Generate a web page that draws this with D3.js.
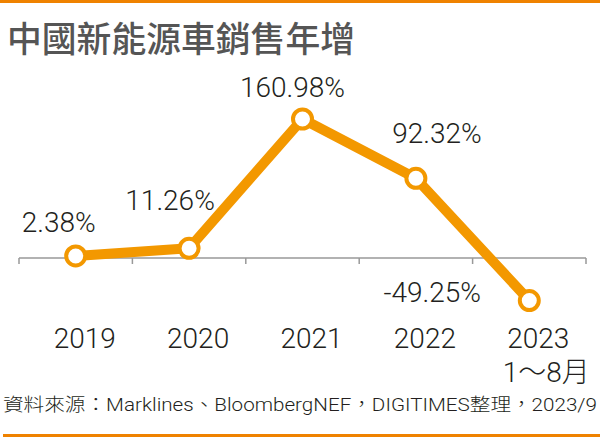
<!DOCTYPE html>
<html lang="zh-Hant">
<head>
<meta charset="utf-8">
<script src="https://d3js.org/d3.v7.min.js"></script>
<style>
  body { margin: 0; background: #fff; }
  svg { display: block; }
</style>
</head>
<body>
<script>
  // data
  const years = ["2019", "2020", "2021", "2022", "2023"];
  const yearSub = ["", "", "", "", "1～8月"];
  const growth = [2.38, 11.26, 160.98, 92.32, -49.25];
  // label placement relative to each point (dx, dy of baseline)
  const labelShift = [[-17, -24], [-19, -38], [-10, -22], [21, -35], [-97, 1]];

  const W = 600, H = 438;
  const orange = "#f39800";
  const numFont = "Roboto, 'Liberation Sans', Arial, 'Noto Sans CJK TC', sans-serif";
  const cjkFont = "'Noto Sans CJK TC', 'Noto Sans CJK SC', sans-serif";
  const fmt = v => d3.format(".2f")(v).replace("−", "-") + "%";

  const svg = d3.select("body").append("svg")
    .attr("width", W).attr("height", H);

  svg.append("rect").attr("width", W).attr("height", H).attr("fill", "#fff");

  // orange rules top and bottom
  svg.append("rect").attr("x", 0).attr("y", 0).attr("width", W).attr("height", 3).attr("fill", "#ef8200");
  svg.append("rect").attr("x", 3).attr("y", 434).attr("width", W - 3).attr("height", 3).attr("fill", "#ef8200");

  // title
  svg.append("text")
    .attr("x", 7).attr("y", 52)
    .attr("font-family", cjkFont)
    .attr("font-weight", 500)
    .attr("font-size", 35)
    .attr("fill", "#555")
    .attr("textLength", 348)
    .attr("lengthAdjust", "spacingAndGlyphs")
    .text("中國新能源車銷售年增");

  // scales
  const x = d3.scaleBand().domain(years).range([19, 586]);
  const y = d3.scaleLinear().domain([0, 160.98]).range([258, 119]);

  // baseline axis with ticks at band edges
  const axis = svg.append("g").attr("transform", "translate(0," + y(0) + ")");
  axis.append("line")
    .attr("x1", 19).attr("x2", 586)
    .attr("stroke", "#999").attr("stroke-width", 1.5);
  const edges = years.map(d => x(d)).concat([x.range()[1]]);
  axis.selectAll(".tk").data(edges).enter().append("line")
    .attr("x1", d => d).attr("x2", d => d)
    .attr("y1", 0).attr("y2", 6)
    .attr("stroke", "#999").attr("stroke-width", 1.5);

  // year labels
  const cx = d => x(d) + x.bandwidth() / 2;
  svg.selectAll(".yr").data(years).enter().append("text")
    .attr("x", d => cx(d) + 9).attr("y", 348)
    .attr("text-anchor", "middle")
    .attr("font-family", numFont).attr("font-weight", 300).attr("font-size", 28)
    .attr("fill", "#231f20")
    .text(d => d);
  svg.selectAll(".sub").data(years).enter().append("text")
    .attr("x", d => cx(d) + 17).attr("y", 382)
    .attr("text-anchor", "middle")
    .attr("font-family", numFont).attr("font-weight", 300).attr("font-size", 28)
    .attr("fill", "#231f20")
    .text((d, i) => yearSub[i]);

  // line
  const pts = years.map((d, i) => [cx(d), y(growth[i])]);
  svg.append("path")
    .attr("d", d3.line()(pts))
    .attr("fill", "none")
    .attr("stroke", orange)
    .attr("stroke-width", 10)
    .attr("stroke-linejoin", "round");

  svg.selectAll(".pt").data(pts).enter().append("circle")
    .attr("cx", d => d[0]).attr("cy", d => d[1])
    .attr("r", 9.5)
    .attr("fill", "#fff")
    .attr("stroke", orange)
    .attr("stroke-width", 4);

  // value labels
  svg.selectAll(".val").data(growth).enter().append("text")
    .attr("x", (d, i) => pts[i][0] + labelShift[i][0])
    .attr("y", (d, i) => pts[i][1] + labelShift[i][1])
    .attr("text-anchor", "middle")
    .attr("font-family", numFont).attr("font-weight", 300).attr("font-size", 28)
    .attr("fill", "#231f20")
    .text(d => fmt(d));

  // source note
  svg.append("text")
    .attr("x", 3).attr("y", 411)
    .attr("font-family", numFont).attr("font-weight", 300).attr("font-size", 18)
    .attr("fill", "#231f20")
    .attr("textLength", 594)
    .attr("lengthAdjust", "spacingAndGlyphs")
    .text("資料來源：Marklines、BloombergNEF，DIGITIMES整理，2023/9");
</script>
</body>
</html>
